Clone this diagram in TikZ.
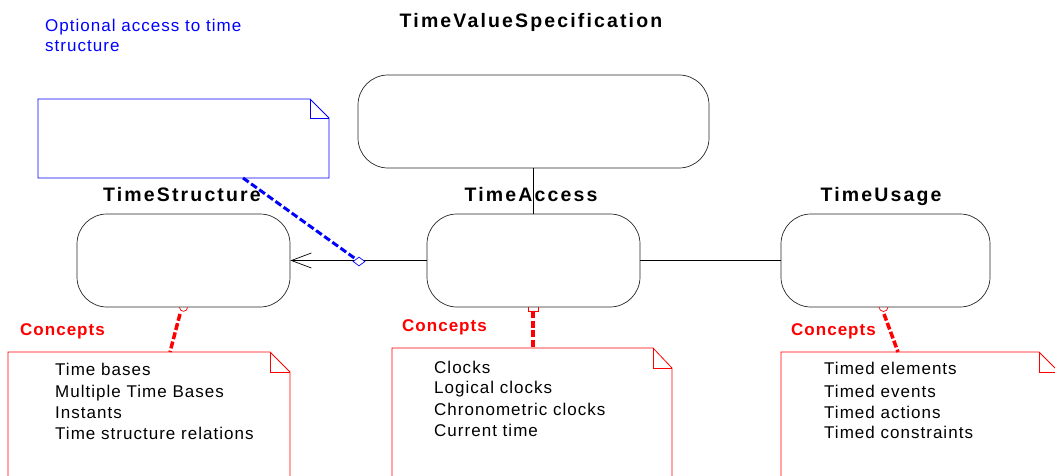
\documentclass[tikz,border=0pt]{standalone}
\usepackage{fontspec}
\setmainfont{Liberation Sans}
\newfontfamily\lblfont[LetterSpace=11]{Liberation Sans}
\newfontfamily\txtfont[LetterSpace=6]{Liberation Sans}
\usetikzlibrary{arrows.meta,shapes.geometric}
\definecolor{pblue}{RGB}{0,0,255}
\definecolor{pred}{RGB}{255,0,0}
\begin{document}
\begin{tikzpicture}[x=1pt,y=-1pt,
  comp/.style={draw=black!85, line width=0.7pt, rounded corners=30pt, inner sep=0pt, minimum height=93pt},
  lbl/.style={font=\lblfont\fontsize{19.5}{23}\selectfont\bfseries, anchor=base, inner sep=0pt},
  conc/.style={font=\txtfont\fontsize{17}{20}\selectfont\bfseries, text=pred, anchor=base west, inner sep=0pt},
  ntxt/.style={font=\txtfont\fontsize{17}{20}\selectfont, anchor=base west, inner sep=0pt},
  btxt/.style={font=\txtfont\fontsize{17}{20}\selectfont, text=pblue, anchor=base west, inner sep=0pt},
  bluenote/.style={draw=pblue, line width=0.8pt},
  rednote/.style={draw=pred, line width=0.8pt},
  bluedash/.style={draw=pblue, line width=3pt, dash pattern=on 7pt off 3pt},
  reddash/.style={draw=pred, line width=3.5pt, dash pattern=on 7pt off 2.5pt},
  thin/.style={draw=black, line width=0.7pt}]
\clip (0,0) rectangle (1055,476);
\fill[white] (0,0) rectangle (1055,476);

% title
\node[lbl] (title) at (531,28) {TimeValueSpecification};

% boxes
\node[comp, minimum width=351pt, minimum height=93pt] (tvs) at (533.5,121.5) {};
\node[comp, minimum width=213pt] (ts) at (183.5,260.5) {};
\node[comp, minimum width=213pt] (ta) at (533.5,260.5) {};
\node[comp, minimum width=209pt] (tu) at (885.5,260.5) {};

\node[lbl] (tsl) at (182,201) {TimeStructure};
\node[lbl] (tal) at (531,201) {TimeAccess};
\node[lbl] (tul) at (881,201) {TimeUsage};

% connectors between boxes
\draw[thin] (tvs.south) -- (ta.north);
\draw[thin, -{Straight Barb[length=20pt,width=15pt,line width=0.7pt]}] (ta.west) -- (ts.east);
\draw[thin] (ta.east) -- (tu.west);

% blue note
\draw[bluenote, fill=white] (38,99) -- (310,99) -- (329,118) -- (329,178) -- (38,178) -- cycle;
\draw[bluenote] (310,99) -- (310,118) -- (329,118);
\coordinate (bn) at (243,178);
\node[btxt] (bt1) at (45,32) {Optional access to time};
\node[btxt] (bt2) at (45,52) {structure};
\node[diamond, draw=pblue, fill=white, line width=0.7pt, inner sep=0pt,
      minimum width=12pt, minimum height=9pt, shape aspect=1.4] (dia) at (359,261.5) {};
\draw[bluedash] (bn) -- (dia.north west);

% red notes
\draw[rednote, fill=white] (8,352) -- (270,352) -- (290,372) -- (290,490) -- (8,490) -- cycle;
\draw[rednote] (270,352) -- (270,372) -- (290,372);
\draw[rednote, fill=white] (392,348) -- (653,348) -- (672,368) -- (672,490) -- (392,490) -- cycle;
\draw[rednote] (653,348) -- (653,368) -- (672,368);
\draw[rednote, fill=white] (781,352) -- (1039,352) -- (1059,372) -- (1059,490) -- (781,490) -- cycle;
\draw[rednote] (1039,352) -- (1039,372) -- (1059,372);

\coordinate (nl) at (170,352);
\coordinate (nm) at (533,348);
\coordinate (nr) at (898,352);
\coordinate (lcs) at (180,314);
\coordinate (mcs) at (533,311);
\coordinate (rcs) at (884,314);

% red end marks
\draw[draw=pred, line width=0.7pt] ([xshift=-4pt]ts.south) arc[start angle=180, end angle=360, radius=4pt];
\draw[draw=pred, line width=0.7pt] (528,307) -- (528,311) -- (538,311) -- (538,307);
\draw[draw=pred, line width=0.7pt] (879,307) arc[start angle=180, end angle=360, radius=4.5pt];

\draw[reddash] (lcs) -- (nl);
\draw[reddash] (mcs) -- (nm);
\draw[reddash] (rcs) -- (nr);

\node[conc] (cl) at (20,335) {Concepts};
\node[conc] (cm) at (402,331) {Concepts};
\node[conc] (cr) at (791,335) {Concepts};

% left note text
\node[ntxt] (l1) at (55,375) {Time bases};
\node[ntxt] (l2) at (55,397.5) {Multiple Time Bases};
\node[ntxt] (l3) at (55,418) {Instants};
\node[ntxt] (l4) at (55,439.5) {Time structure relations};

% middle note text
\node[ntxt] (m1) at (434,373) {Clocks};
\node[ntxt] (m2) at (434,393.5) {Logical clocks};
\node[ntxt] (m3) at (434,415) {Chronometric clocks};
\node[ntxt] (m4) at (434,436) {Current time};

% right note text
\node[ntxt] (r1) at (824,374.5) {Timed elements};
\node[ntxt] (r2) at (824,397) {Timed events};
\node[ntxt] (r3) at (824,418) {Timed actions};
\node[ntxt] (r4) at (824,438.5) {Timed constraints};
\end{tikzpicture}
\end{document}
